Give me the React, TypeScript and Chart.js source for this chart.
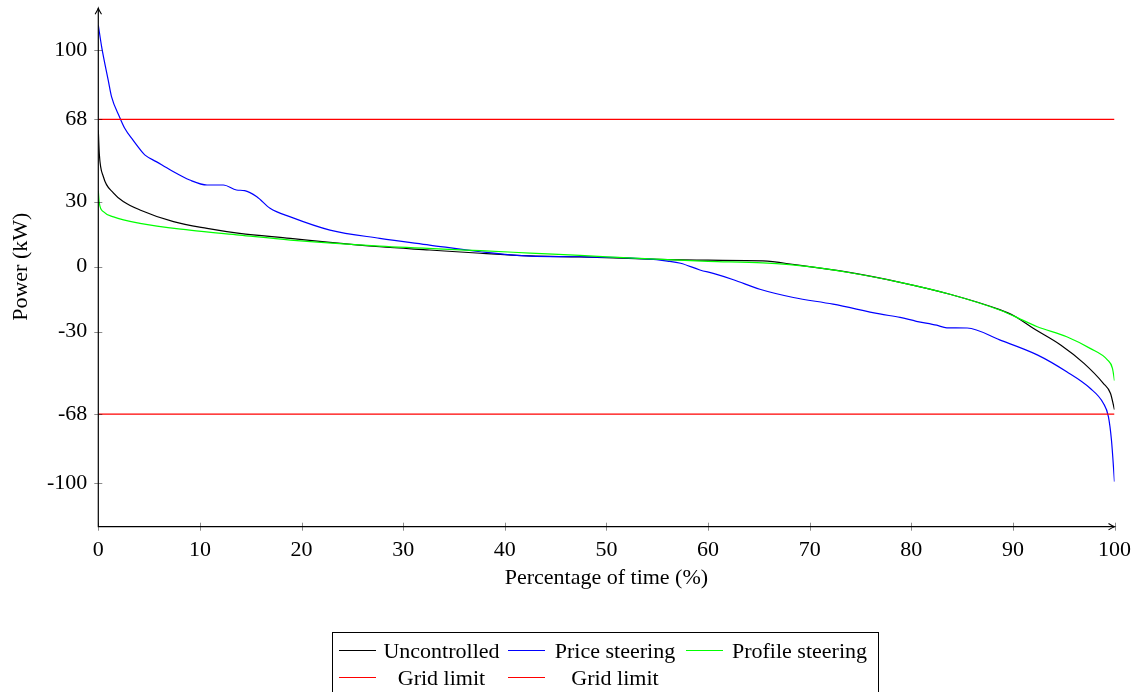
import React, { useEffect, useRef } from 'react';
import { Chart, registerables } from 'chart.js';

Chart.register(...registerables);

// ---------------- Data ----------------
const uncontrolledX = [0, 0.1, 0.5, 1.5, 2.5, 4.1, 7.4, 10.7, 13.9, 18.9, 22.8, 27.7, 32.6, 37.6, 42.5, 47.4, 54.3, 60, 65.4, 68.7, 73.6, 78.9, 83.8, 88.7, 90.1, 92, 94.7, 97, 98.9, 99.6, 100];
const uncontrolledY = [63, 52, 41.5, 34, 30, 26.2, 20.8, 17.7, 15.4, 13.1, 11.2, 9.2, 7.7, 6.2, 5.0, 4.5, 3.5, 3.0, 2.7, 0.8, -2.4, -7.2, -12.7, -19.8, -22.6, -28.4, -36.1, -44.6, -53.8, -58.4, -66];

const priceX = [0, 0.33, 0.98, 1.3, 2.1, 2.6, 3.4, 4.3, 4.6, 5.7, 7.1, 9.0, 10.7, 12.3, 13.6, 14.4, 15.6, 16.9, 18.9, 22.8, 27.7, 32.6, 37.6, 42.5, 47.4, 54, 56, 57.3, 59.2, 60.6, 62.5, 65.1, 68.4, 72.3, 76.9, 78.9, 80.5, 82.5, 83.5, 85.5, 88.7, 92.4, 95.3, 97.6, 98.9, 99.4, 99.7, 100];
const priceY = [111.5, 101.5, 86, 78.5, 69, 63.9, 58.5, 53, 51.5, 48.5, 44.6, 40, 37.7, 37.7, 35.4, 35.1, 32.3, 27, 23, 16.9, 13.1, 10, 6.9, 4.9, 4.6, 3.6, 2.6, 1.6, -1.5, -3.2, -6, -10.4, -14.2, -17.3, -21.8, -23.4, -25.2, -27.0, -28.2, -28.3, -33.8, -40.7, -48.5, -56.1, -63, -69.2, -80, -99.2];

const profileX = [0, 0.1, 0.5, 1.5, 4.1, 9, 13.9, 18.9, 27.7, 37.6, 42.5, 47.4, 54.3, 60, 65.4, 70.4, 74, 78.9, 83.8, 88.7, 90.1, 92.4, 95.3, 97.6, 99.3, 99.8, 100];
const profileY = [35, 29.3, 25.4, 23, 20, 16.9, 14.6, 12.3, 9.5, 7.4, 6.3, 5.2, 3.6, 2.5, 1.8, -0.2, -2.8, -7.2, -12.7, -20, -22.8, -27.7, -32.3, -37.7, -43, -46.9, -52.6];

const gridLimitX = [0, 100];
const gridLimitUpperY = [68, 68];
const gridLimitLowerY = [-68, -68];

const xTicks = [0, 10, 20, 30, 40, 50, 60, 70, 80, 90, 100];
const yTicks = [100, 68, 30, 0, -30, -68, -100];

const seriesNames = ['Uncontrolled', 'Price steering', 'Profile steering', 'Grid limit', 'Grid limit'];
const seriesColors = ['#000000', '#0000ff', '#00ff00', '#ff0000', '#ff0000'];

const xTitle = 'Percentage of time (%)';
const yTitle = 'Power (kW)';

// ---------------- Styles ----------------
const FONT = "'Liberation Serif', 'Times New Roman', serif";
const FONT_SIZE = 22;

const toPoints = (xs: number[], ys: number[]) => xs.map((x, i) => ({ x, y: ys[i] }));

const axesPlugin = {
  id: 'pgfAxes',
  afterDatasetsDraw(chart: any) {
    const { ctx, chartArea, scales } = chart;
    const xs = scales.x;
    const ys = scales.y;
    const left = chartArea.left;
    const right = chartArea.right;
    const top = chartArea.top;
    const bottom = chartArea.bottom;
    ctx.save();
    // tick marks crossing the axes
    ctx.strokeStyle = 'rgba(0,0,0,0.45)';
    ctx.lineWidth = 1;
    xTicks.forEach((v) => {
      const px = Math.round(xs.getPixelForValue(v)) + 0.5;
      ctx.beginPath();
      ctx.moveTo(px, bottom - 4);
      ctx.lineTo(px, bottom + 4);
      ctx.stroke();
    });
    yTicks.forEach((v) => {
      const py = Math.round(ys.getPixelForValue(v)) + 0.5;
      ctx.beginPath();
      ctx.moveTo(left - 4, py);
      ctx.lineTo(left + 4, py);
      ctx.stroke();
    });
    // axis lines
    ctx.strokeStyle = '#000';
    ctx.lineWidth = 1.2;
    ctx.beginPath();
    ctx.moveTo(left, bottom + 0.5);
    ctx.lineTo(left, top + 1.5);
    ctx.moveTo(left - 0.5, bottom);
    ctx.lineTo(right, bottom);
    ctx.stroke();
    // arrow tips
    ctx.lineWidth = 1.1;
    ctx.beginPath();
    const ty = top + 1.5;
    ctx.moveTo(left - 3.2, ty + 6);
    ctx.quadraticCurveTo(left - 0.6, ty + 2, left, ty);
    ctx.quadraticCurveTo(left + 0.6, ty + 2, left + 3.2, ty + 6);
    const tx = right;
    ctx.moveTo(tx - 6, bottom - 3.2);
    ctx.quadraticCurveTo(tx - 2, bottom - 0.6, tx, bottom);
    ctx.quadraticCurveTo(tx - 2, bottom + 0.6, tx - 6, bottom + 3.2);
    ctx.stroke();
    ctx.restore();
  },
};

export default function App() {
  const canvasRef = useRef<HTMLCanvasElement | null>(null);

  useEffect(() => {
    document.body.style.margin = '0';
    const canvas = canvasRef.current;
    if (!canvas) return;
    const seriesData = [
      toPoints(uncontrolledX, uncontrolledY),
      toPoints(priceX, priceY),
      toPoints(profileX, profileY),
      toPoints(gridLimitX, gridLimitUpperY),
      toPoints(gridLimitX, gridLimitLowerY),
    ];
    const chart = new Chart(canvas, {
      type: 'line',
      data: {
        datasets: seriesData.map((data, i) => ({
          label: seriesNames[i],
          data,
          borderColor: seriesColors[i],
          backgroundColor: seriesColors[i],
          borderWidth: 1.2,
          pointRadius: 0,
          pointHoverRadius: 0,
          fill: false,
          cubicInterpolationMode: 'monotone' as const,
          order: seriesData.length - i,
        })),
      },
      options: {
        animation: false,
        responsive: false,
        devicePixelRatio: 1,
        events: [],
        layout: { padding: { left: 0, right: 22.5, top: 6.7, bottom: 90.3 } },
        plugins: {
          legend: { display: false },
          tooltip: { enabled: false },
        },
        scales: {
          x: {
            type: 'linear',
            min: 0,
            max: 100,
            grid: { display: false, drawTicks: false },
            border: { display: false },
            ticks: {
              color: '#000',
              font: { family: FONT, size: FONT_SIZE },
              padding: 10,
              maxRotation: 0,
              autoSkip: false,
            },
            afterBuildTicks: (s: any) => {
              s.ticks = xTicks.map((v) => ({ value: v }));
            },
            afterFit: (s: any) => {
              s.height = 75;
              s.paddingLeft = 0;
              s.paddingRight = 0;
              s.paddingTop = 0;
              s.paddingBottom = 0;
            },
            title: {
              display: true,
              text: xTitle,
              color: '#000',
              font: { family: FONT, size: FONT_SIZE },
              padding: { top: 0, bottom: 10.5 },
            },
          },
          y: {
            type: 'linear',
            min: -120,
            max: 120,
            grid: { display: false, drawTicks: false },
            border: { display: false },
            ticks: {
              color: '#000',
              font: { family: FONT, size: FONT_SIZE },
              padding: 11,
              autoSkip: false,
            },
            afterBuildTicks: (s: any) => {
              s.ticks = yTicks.map((v) => ({ value: v }));
            },
            afterFit: (s: any) => {
              s.width = 98.3;
              s.paddingLeft = 0;
              s.paddingRight = 0;
              s.paddingTop = 0;
              s.paddingBottom = 0;
            },
            title: {
              display: true,
              text: yTitle,
              color: '#000',
              font: { family: FONT, size: FONT_SIZE },
              padding: { top: 8, bottom: 0 },
            },
          },
        },
      },
      plugins: [axesPlugin],
    });
    return () => chart.destroy();
  }, []);

  const legendRows = [
    [0, 1, 2],
    [3, 4],
  ];
  const colWidths = [120, 130, 142];

  return (
    <div style={{ position: 'fixed', left: 0, top: 0, width: 1137, height: 692, overflow: 'hidden', background: '#fff' }}>
      <canvas ref={canvasRef} width={1137} height={692} style={{ position: 'absolute', left: 0, top: 0, width: 1137, height: 692 }} />
      <div
        style={{
          position: 'absolute',
          left: 332,
          top: 632,
          width: 547,
          height: 100,
          boxSizing: 'border-box',
          border: '1px solid #000',
          fontFamily: FONT,
          fontSize: FONT_SIZE,
          color: '#000',
          paddingTop: 3.5,
          paddingLeft: 6,
        }}
      >
        {legendRows.map((row, r) => (
          <div key={r} style={{ display: 'flex', alignItems: 'center', height: 27, lineHeight: '27px', whiteSpace: 'nowrap' }}>
            {row.map((si, c) => (
              <React.Fragment key={c}>
                <div style={{ width: 37, height: 0, borderTop: `1px solid ${seriesColors[si]}`, marginRight: 5.5 }} />
                <div style={{ width: colWidths[c], textAlign: 'center', marginRight: 6 }}>{seriesNames[si]}</div>
              </React.Fragment>
            ))}
          </div>
        ))}
      </div>
    </div>
  );
}
